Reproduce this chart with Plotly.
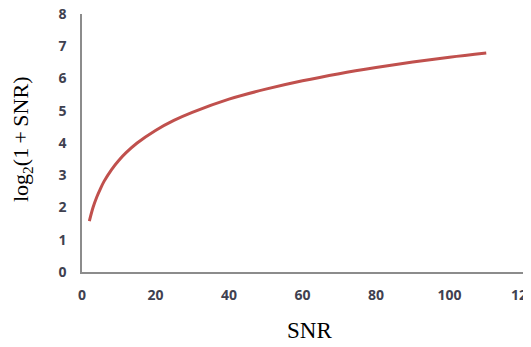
import plotly.graph_objects as go

snr = [2, 3, 4, 5, 6, 8, 10, 12, 15, 20, 25, 30, 40, 50, 60, 70, 80, 90, 100, 110]
capacity = [1.58, 2.0, 2.32, 2.58, 2.81, 3.17, 3.46, 3.70, 4.0, 4.39, 4.70, 4.95,
            5.36, 5.67, 5.93, 6.15, 6.34, 6.51, 6.66, 6.79]
x_ticks = [0, 20, 40, 60, 80, 100, 120]
y_ticks = [0, 1, 2, 3, 4, 5, 6, 7, 8]

fig = go.Figure()
fig.add_trace(go.Scatter(x=snr, y=capacity, mode="lines",
                         line=dict(color="#C0504D", width=3, shape="spline"),
                         showlegend=False))

tickfont = dict(family="Open Sans", size=14, color="#3F4150", weight="bold")
fig.update_layout(
    width=523, height=339,
    margin=dict(l=74, r=8, t=6, b=75),
    plot_bgcolor="white", paper_bgcolor="white",
    xaxis=dict(range=[0, 120], tickvals=x_ticks, showgrid=False, zeroline=False,
               showline=True, linecolor="#8C8C8C", linewidth=1.5,
               tickfont=tickfont, ticks="", ticklen=0, automargin=False,
               ticklabelstandoff=9, ticklabeloverflow="allow"),
    yaxis=dict(range=[0, 8], tickvals=y_ticks, showgrid=False, zeroline=False,
               showline=True, linecolor="#8C8C8C", linewidth=1.5,
               tickfont=tickfont, ticks="", ticklen=0, automargin=False,
               ticklabelstandoff=11, ticklabeloverflow="allow"),
    annotations=[
        dict(text="SNR", xref="paper", yref="paper", x=0.517, y=-0.2267,
             xanchor="center", yanchor="middle", showarrow=False,
             font=dict(family="Liberation Serif", size=23, color="black")),
        dict(text="log<sub>2</sub>(1\u2009+\u2009SNR)", xref="paper", yref="paper",
             x=-0.136, y=0.5155, xanchor="center", yanchor="middle",
             textangle=-90, showarrow=False,
             font=dict(family="Liberation Serif", size=22, color="black")),
    ],
)
fig.write_html("out.html")
